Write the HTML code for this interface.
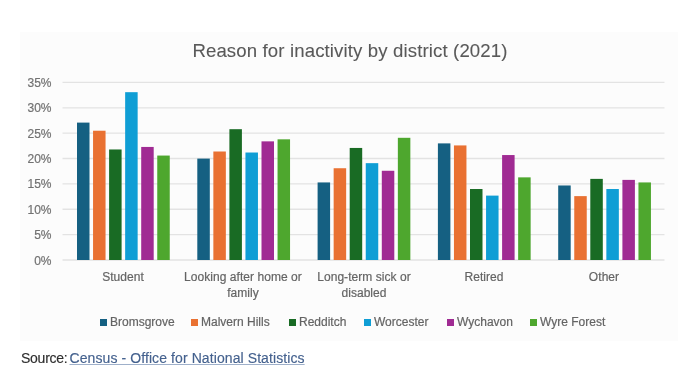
<!DOCTYPE html>
<html><head><meta charset="utf-8"><style>
html,body{margin:0;padding:0;background:#fff;}
body{width:700px;height:377px;position:relative;overflow:hidden;font-family:"Liberation Sans",sans-serif;-webkit-font-smoothing:antialiased;}
.wrap{position:absolute;left:0;top:0;width:700px;height:377px;filter:blur(0.35px);}
.box{position:absolute;left:20px;top:32px;width:658px;height:309px;background:#fcfcfc;}
svg{position:absolute;left:0;top:0;}
.title{position:absolute;left:0;width:700px;top:41px;text-align:center;font-size:18.6px;letter-spacing:0.13px;color:#595959;line-height:20px;white-space:nowrap;}
.yl,.cl,.lg{-webkit-text-stroke:0.2px currentColor;}
.title{-webkit-text-stroke:0.1px currentColor;}
.src{-webkit-text-stroke:0.15px currentColor;}
.yl,.cl,.lg,.title,.src{will-change:transform;}
.yl{position:absolute;left:0;width:51.5px;text-align:right;font-size:12px;color:#727272;line-height:14px;}
.cl{position:absolute;width:160px;top:269.8px;letter-spacing:0.05px;text-align:center;font-size:12px;color:#646464;line-height:15.8px;}
.lg{position:absolute;top:315px;font-size:12px;color:#646464;line-height:14px;white-space:nowrap;}
.sw{display:inline-block;width:7px;height:7px;margin-right:3px;vertical-align:0px;}
.src{position:absolute;left:21px;top:349px;font-size:14px;line-height:18px;color:#2e2e2e;white-space:nowrap;}
.src a{color:#44618e;text-decoration:underline;text-decoration-color:#9fb0ca;}
</style></head><body>
<div class="wrap"><div class="box"></div>
<div class="title">Reason for inactivity by district (2021)</div>
<svg width="700" height="377" viewBox="0 0 700 377">
<line x1="62.5" y1="260.00" x2="664.5" y2="260.00" stroke="#e3e3e3" stroke-width="1.3"/>
<line x1="62.5" y1="234.63" x2="664.5" y2="234.63" stroke="#e3e3e3" stroke-width="1.3"/>
<line x1="62.5" y1="209.26" x2="664.5" y2="209.26" stroke="#e3e3e3" stroke-width="1.3"/>
<line x1="62.5" y1="183.89" x2="664.5" y2="183.89" stroke="#e3e3e3" stroke-width="1.3"/>
<line x1="62.5" y1="158.52" x2="664.5" y2="158.52" stroke="#e3e3e3" stroke-width="1.3"/>
<line x1="62.5" y1="133.15" x2="664.5" y2="133.15" stroke="#e3e3e3" stroke-width="1.3"/>
<line x1="62.5" y1="107.78" x2="664.5" y2="107.78" stroke="#e3e3e3" stroke-width="1.3"/>
<line x1="62.5" y1="82.41" x2="664.5" y2="82.41" stroke="#e3e3e3" stroke-width="1.3"/>
<rect x="77.00" y="122.60" width="12.5" height="137.40" fill="#156082"/>
<rect x="93.05" y="130.72" width="12.5" height="129.28" fill="#E97132"/>
<rect x="109.10" y="149.47" width="12.5" height="110.53" fill="#196B24"/>
<rect x="125.15" y="92.18" width="12.5" height="167.82" fill="#0F9ED5"/>
<rect x="141.20" y="146.94" width="12.5" height="113.06" fill="#A02B93"/>
<rect x="157.25" y="155.56" width="12.5" height="104.44" fill="#4EA72E"/>
<rect x="197.30" y="158.60" width="12.5" height="101.40" fill="#156082"/>
<rect x="213.35" y="151.50" width="12.5" height="108.50" fill="#E97132"/>
<rect x="229.40" y="129.19" width="12.5" height="130.81" fill="#196B24"/>
<rect x="245.45" y="152.52" width="12.5" height="107.48" fill="#0F9ED5"/>
<rect x="261.50" y="141.36" width="12.5" height="118.64" fill="#A02B93"/>
<rect x="277.55" y="139.33" width="12.5" height="120.67" fill="#4EA72E"/>
<rect x="317.60" y="182.43" width="12.5" height="77.57" fill="#156082"/>
<rect x="333.65" y="168.23" width="12.5" height="91.77" fill="#E97132"/>
<rect x="349.70" y="147.95" width="12.5" height="112.05" fill="#196B24"/>
<rect x="365.75" y="163.16" width="12.5" height="96.84" fill="#0F9ED5"/>
<rect x="381.80" y="170.77" width="12.5" height="89.23" fill="#A02B93"/>
<rect x="397.85" y="137.81" width="12.5" height="122.19" fill="#4EA72E"/>
<rect x="437.90" y="143.39" width="12.5" height="116.61" fill="#156082"/>
<rect x="453.95" y="145.42" width="12.5" height="114.58" fill="#E97132"/>
<rect x="470.00" y="189.02" width="12.5" height="70.98" fill="#196B24"/>
<rect x="486.05" y="195.61" width="12.5" height="64.39" fill="#0F9ED5"/>
<rect x="502.10" y="155.05" width="12.5" height="104.95" fill="#A02B93"/>
<rect x="518.15" y="177.36" width="12.5" height="82.64" fill="#4EA72E"/>
<rect x="558.20" y="185.47" width="12.5" height="74.53" fill="#156082"/>
<rect x="574.25" y="196.12" width="12.5" height="63.88" fill="#E97132"/>
<rect x="590.30" y="178.88" width="12.5" height="81.12" fill="#196B24"/>
<rect x="606.35" y="189.02" width="12.5" height="70.98" fill="#0F9ED5"/>
<rect x="622.40" y="179.89" width="12.5" height="80.11" fill="#A02B93"/>
<rect x="638.45" y="182.43" width="12.5" height="77.57" fill="#4EA72E"/>
</svg>
<div class="yl" style="top:253.5px">0%</div>
<div class="yl" style="top:228.1px">5%</div>
<div class="yl" style="top:202.8px">10%</div>
<div class="yl" style="top:177.4px">15%</div>
<div class="yl" style="top:152.0px">20%</div>
<div class="yl" style="top:126.6px">25%</div>
<div class="yl" style="top:101.3px">30%</div>
<div class="yl" style="top:75.9px">35%</div>
<div class="cl" style="left:42.7px">Student</div>
<div class="cl" style="left:163.1px">Looking after home or<br>family</div>
<div class="cl" style="left:283.5px">Long-term sick or<br>disabled</div>
<div class="cl" style="left:403.9px">Retired</div>
<div class="cl" style="left:524.3px">Other</div>
<div class="lg" style="left:99.8px"><span class="sw" style="background:#156082"></span>Bromsgrove</div>
<div class="lg" style="left:191.4px"><span class="sw" style="background:#E97132"></span>Malvern Hills</div>
<div class="lg" style="left:288.7px"><span class="sw" style="background:#196B24"></span>Redditch</div>
<div class="lg" style="left:364.1px"><span class="sw" style="background:#0F9ED5"></span>Worcester</div>
<div class="lg" style="left:446.8px"><span class="sw" style="background:#A02B93"></span>Wychavon</div>
<div class="lg" style="left:530.4px"><span class="sw" style="background:#4EA72E"></span>Wyre Forest</div>
<div class="src"><span style="letter-spacing:-0.25px">Source:</span><a style="margin-left:2px;letter-spacing:0.09px">Census - Office for National Statistics</a></div>
</div></body></html>
